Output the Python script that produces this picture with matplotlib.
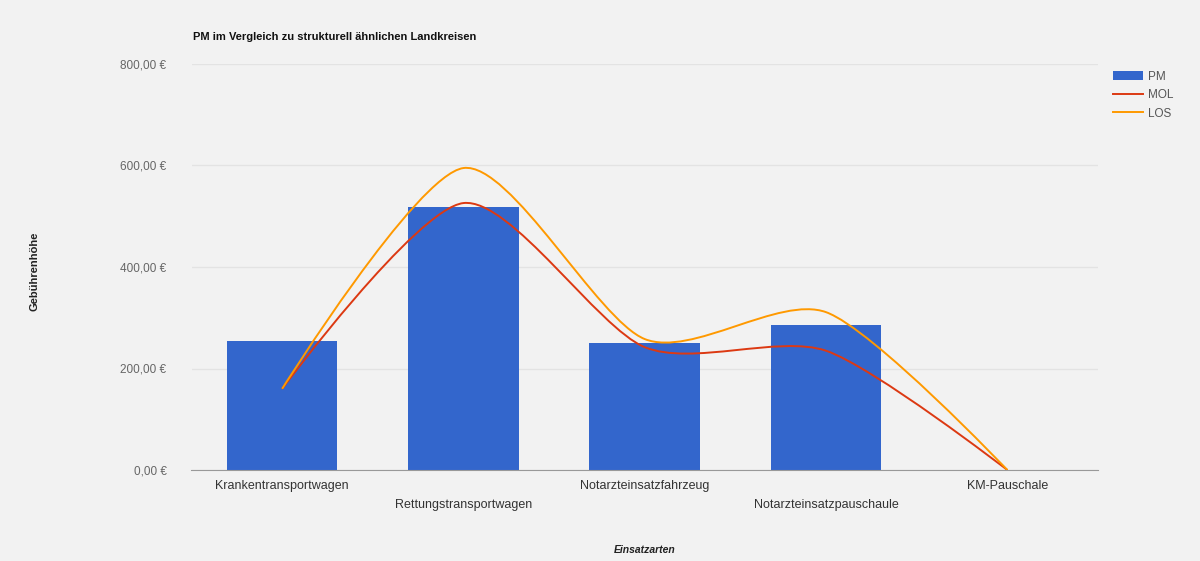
import matplotlib
matplotlib.use("Agg")
import matplotlib.pyplot as plt
import numpy as np
from matplotlib.path import Path
from matplotlib.patches import PathPatch, Patch
from matplotlib.lines import Line2D

plt.rcParams['font.family'] = ['Liberation Sans', 'DejaVu Sans']

categories = ["Krankentransportwagen", "Rettungstransportwagen", "Notarzteinsatzfahrzeug",
              "Notarzteinsatzpauschaule", "KM-Pauschale"]
pm = [254, 518, 251, 286, 0]
mol = [160, 526, 242, 235, 0]
los = [160, 595, 258, 311, 0]
y_ticks = [0, 200, 400, 600, 800]
y_tick_labels = ["0,00 €", "200,00 €", "400,00 €", "600,00 €", "800,00 €"]

blue = "#3366cc"
red = "#dc3912"
orange = "#ff9900"
bg = "#f2f2f2"

fig = plt.figure(figsize=(12, 5.61), dpi=100, facecolor=bg)
ax = fig.add_axes([191.5/1200, 1-470/561, (1098-191.5)/1200, (470-64)/561])
ax.set_facecolor(bg)

x = np.arange(len(categories))
ax.bar(x, pm, width=0.61, color=blue, zorder=2)

def smooth_path(xs, ys, k=0.13):
    xs = np.asarray(xs, float); ys = np.asarray(ys, float)
    n = len(xs)
    verts = [(xs[0], ys[0])]
    codes = [Path.MOVETO]
    for i in range(n-1):
        p0 = np.array([xs[max(i-1, 0)], ys[max(i-1, 0)]])
        p1 = np.array([xs[i], ys[i]])
        p2 = np.array([xs[i+1], ys[i+1]])
        p3 = np.array([xs[min(i+2, n-1)], ys[min(i+2, n-1)]])
        c1 = p1 + (p2 - p0) * k if i > 0 else p1
        c2 = p2 - (p3 - p1) * k if i+1 < n-1 else p2
        verts += [tuple(c1), tuple(c2), tuple(p2)]
        codes += [Path.CURVE4]*3
    return Path(verts, codes)

for vals, col in [(mol, red), (los, orange)]:
    ax.add_patch(PathPatch(smooth_path(x, vals), facecolor='none', edgecolor=col, lw=1.4, zorder=3))

ax.set_xlim(-0.5, len(categories)-0.5)
ax.set_ylim(0, 800)
ax.set_yticks(y_ticks)
ax.set_yticklabels(y_tick_labels, color="#666666", fontsize=8.5)
ax.grid(axis='y', color='#e3e3e3', lw=1, zorder=0)
ax.set_axisbelow(True)
for s in ['top', 'right', 'left']:
    ax.spines[s].set_visible(False)
ax.spines['bottom'].set_color('#999999')
ax.tick_params(axis='y', length=0, pad=18)
ax.tick_params(axis='x', length=0)
ax.set_xticks(x)
ax.set_xticklabels([])
for i, c in enumerate(categories):
    yoff = -0.04 if i % 2 == 0 else -0.085
    ax.text(i, yoff, c, transform=ax.get_xaxis_transform(), ha='center', va='center',
            fontsize=9, color='#333333')

fig.text(193/1200, 1-37/561, "PM im Vergleich zu strukturell ähnlichen Landkreisen",
         fontsize=8, fontweight='bold', va='center', ha='left', color='#111111')
fig.text(35/1200, 1-271/561, "Gebührenhöhe", rotation=90, fontsize=8, fontweight='bold',
         va='center', ha='center', color='#222222')
fig.text(645/1200, 1-550/561, "Einsatzarten", fontsize=7.5, fontweight='bold', style='italic',
         va='center', ha='center', color='#222222')

handles = [Patch(facecolor=blue, edgecolor='none'),
           Line2D([], [], color=red, lw=1.4),
           Line2D([], [], color=orange, lw=1.4)]
fig.legend(handles, ["PM", "MOL", "LOS"], loc='upper left', bbox_to_anchor=(1102/1200, 1-60/561),
           frameon=False, fontsize=8.5, handlelength=2.6, handleheight=0.8, labelspacing=0.55,
           handletextpad=0.4, labelcolor='#555555')

fig.savefig("out.png", dpi=100, facecolor=bg)
